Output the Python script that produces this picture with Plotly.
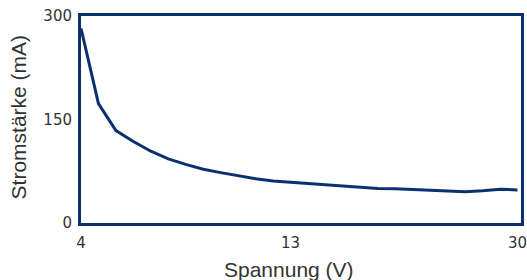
import plotly.graph_objects as go

# Voltage categories (only 4, 13, 30 are labelled on the reference)
spannung = ["4", "4.75", "5.5", "6.25", "7", "7.75", "8.5", "9.25", "10", "10.75",
            "11.5", "12.25", "13", "14", "15", "16", "17", "18", "19", "20",
            "22", "24", "26", "28", "29", "30"]
stromstaerke = [282, 173, 134, 118, 104, 93, 85, 78, 73, 68,
                64, 61, 59, 57, 55, 53, 51, 50, 49.5, 48.7,
                47.8, 46.9, 45.4, 46.9, 49, 48]
x_ticks = ["4", "13", "30"]
y_ticks = [0, 150, 300]

navy = "#0b3070"
tick_font = "DejaVu Sans, Verdana, sans-serif"
title_font = "Liberation Sans, Arial, sans-serif"
text_col = "#333333"

fig = go.Figure(go.Scatter(
    x=spannung, y=stromstaerke, mode="lines",
    line=dict(color=navy, width=3),
    hoverinfo="skip",
))

fig.update_layout(
    width=527, height=280,
    margin=dict(l=81, r=6, t=16, b=57),
    paper_bgcolor="white", plot_bgcolor="white",
    showlegend=False,
    font=dict(family=title_font, size=15, color=text_col),
    annotations=[
        dict(text="Spannung (V)", xref="paper", yref="paper",
             x=(288.5 - 81) / 440, y=0, yshift=-46, xanchor="center", yanchor="middle",
             showarrow=False, font=dict(family=title_font, size=21, color=text_col)),
        dict(text="Stromstärke (mA)", xref="paper", yref="paper",
             x=0, xshift=-63, y=0.51, xanchor="center", yanchor="middle", textangle=-90,
             showarrow=False, font=dict(family=title_font, size=21, color=text_col)),
    ],
)
fig.update_xaxes(
    type="category", range=[0, len(spannung) - 0.8],
    tickmode="array", tickvals=x_ticks, ticktext=x_ticks,
    showgrid=False, zeroline=False, automargin=False,
    showline=True, mirror=True, linewidth=3, linecolor=navy,
    ticks="outside", ticklen=4, tickcolor="rgba(0,0,0,0)",
    tickfont=dict(family=tick_font, size=15, color=text_col),
)
fig.update_yaxes(
    range=[0, 300],
    tickmode="array", tickvals=y_ticks,
    showgrid=False, zeroline=False, automargin=False,
    showline=True, mirror=True, linewidth=3, linecolor=navy,
    ticks="outside", ticklen=3, tickcolor="rgba(0,0,0,0)",
    tickfont=dict(family=tick_font, size=15, color=text_col),
)

fig.write_html("out.html", config={"displayModeBar": False},
               post_script="document.body.style.margin='0';document.body.style.overflow='hidden';")
